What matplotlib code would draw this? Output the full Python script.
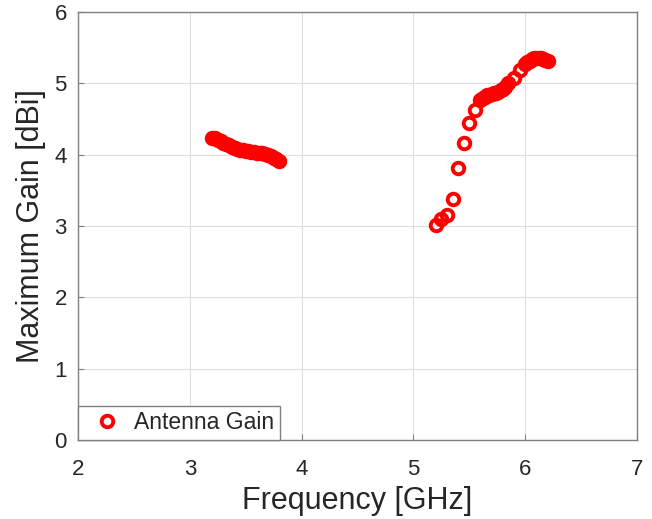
import matplotlib
matplotlib.use("Agg")
import matplotlib.pyplot as plt

# Band 1 (3.2 - 3.8 GHz)
freq_band1 = [3.200, 3.225, 3.250, 3.275, 3.300, 3.325, 3.350, 3.375, 3.400, 3.425,
              3.450, 3.475, 3.500, 3.525, 3.550, 3.575, 3.600, 3.625, 3.650, 3.675,
              3.700, 3.725, 3.750, 3.775, 3.800]
gain_band1 = [4.24, 4.23, 4.21, 4.19, 4.17, 4.15, 4.13, 4.11, 4.10, 4.08,
              4.07, 4.06, 4.05, 4.045, 4.04, 4.035, 4.03, 4.025, 4.02, 4.01,
              4.00, 3.98, 3.96, 3.94, 3.91]

# Band 2 (5.2 - 6.2 GHz)
freq_band2 = [5.20, 5.25, 5.30, 5.35, 5.40, 5.45, 5.50, 5.55, 5.60,
              5.62, 5.64, 5.66, 5.68, 5.70, 5.72, 5.74, 5.76, 5.78, 5.80, 5.82,
              5.85, 5.90, 5.95, 6.00, 6.02, 6.04, 6.06, 6.08, 6.10, 6.12,
              6.14, 6.16, 6.18, 6.20]
gain_band2 = [3.02, 3.10, 3.15, 3.38, 3.82, 4.16, 4.44, 4.63, 4.76,
              4.79, 4.81, 4.83, 4.84, 4.85, 4.86, 4.87, 4.88, 4.90, 4.92, 4.95,
              5.00, 5.08, 5.18, 5.27, 5.30, 5.32, 5.34, 5.35, 5.36, 5.36,
              5.35, 5.34, 5.33, 5.32]

x_ticks = [2, 3, 4, 5, 6, 7]
y_ticks = [0, 1, 2, 3, 4, 5, 6]

plt.rcParams['font.family'] = ['Liberation Sans', 'DejaVu Sans']
txt = '#262626'

fig = plt.figure(figsize=(6.52, 5.19), dpi=100)
ax = fig.add_axes([78/652, 79/519, (637-78)/652, (440-12)/519])

freq_all = freq_band1 + freq_band2
gain_all = gain_band1 + gain_band2
ax.plot(freq_all, gain_all, linestyle='none', marker='o', markersize=8.3,
        markerfacecolor='none', markeredgecolor='#ff0000', markeredgewidth=2.8,
        label='Antenna Gain', zorder=3)

ax.set_xlim(2, 7)
ax.set_ylim(0, 6)
ax.set_xticks(x_ticks)
ax.set_yticks(y_ticks)
ax.tick_params(direction='in', length=4, width=0.8, colors='#808080',
               labelcolor=txt, labelsize=16)
ax.tick_params(axis='x', pad=14)
ax.tick_params(axis='y', pad=8)
ax.grid(True, color='#dedede', linewidth=0.8)
ax.set_axisbelow(True)
for s in ax.spines.values():
    s.set_color('#808080')
    s.set_linewidth(1.0)

ax.set_xlabel('Frequency [GHz]', fontsize=22, color=txt, labelpad=4)
ax.set_ylabel('Maximum Gain [dBi]', fontsize=22, color=txt, labelpad=6)

leg = ax.legend(loc='lower left', fontsize=16.5, frameon=True, fancybox=False,
                borderaxespad=0, handlelength=2.0, handletextpad=0.2,
                borderpad=0.25, labelcolor=txt)
leg.get_frame().set_edgecolor('#808080')
leg.get_frame().set_linewidth(1.0)
leg.get_frame().set_alpha(1)

fig.savefig('out.png', dpi=100)
